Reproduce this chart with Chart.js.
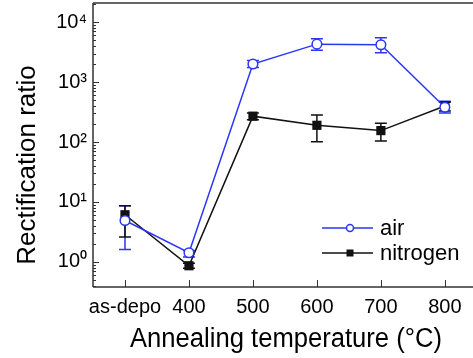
<!DOCTYPE html>
<html>
<head>
<meta charset="utf-8">
<script src="https://cdn.jsdelivr.net/npm/chart.js@4.4.0/dist/chart.umd.min.js"></script>
<style>
    html, body { margin: 0; padding: 0; background: #fff; }
    canvas { display: block; }
</style>
</head>
<body>
<canvas id="rectChart" width="473" height="358"></canvas>
<script>
// values
const categories = ['as-depo', '400', '500', '600', '700', '800'];
const airValues = [4.9, 1.42, 2000, 4300, 4200, 380];
const airLow = [1.6, 1.2, 1750, 3400, 3100, 305];
const airHigh = [8.6, 1.55, 2300, 5300, 5500, 480];
const nitrogenValues = [6.1, 0.86, 270, 190, 155, 400];
const nitrogenLow = [2.6, 0.78, 235, 101, 104, 330];
const nitrogenHigh = [8.6, 0.95, 305, 282, 205, 460];
const yRange = [0.38, 20900];

const FONT = '"Liberation Sans", Arial, sans-serif';
const BLUE = '#2b35f5';
const BLACK = '#111111';
const SUP = ['⁰', '¹', '²', '³', '⁴', '⁵'];

Chart.defaults.font.family = FONT;
Chart.defaults.color = '#000';

function toPoints(values) {
    return values.map((v, i) => ({ x: i, y: v }));
}

// error bars drawn under the markers
const errorBars = {
    id: 'errorBars',
    beforeDatasetsDraw(chart) {
        const { ctx, scales: { x, y } } = chart;
        chart.data.datasets.forEach(ds => {
            ds.errLow.forEach((lo, i) => {
                const px = x.getPixelForValue(i);
                const top = y.getPixelForValue(ds.errHigh[i]);
                const bot = y.getPixelForValue(lo);
                ctx.save();
                ctx.strokeStyle = ds.borderColor;
                ctx.lineWidth = 1.5;
                ctx.beginPath();
                ctx.moveTo(px, top); ctx.lineTo(px, bot);
                ctx.moveTo(px - 6, top); ctx.lineTo(px + 6, top);
                ctx.moveTo(px - 6, bot); ctx.lineTo(px + 6, bot);
                ctx.stroke();
                ctx.restore();
            });
        });
    }
};

// frame, inward ticks, axis titles and legend
const decorations = {
    id: 'decorations',
    afterDraw(chart) {
        const { ctx, chartArea: a, scales: { x, y } } = chart;
        ctx.save();
        ctx.strokeStyle = '#333';
        ctx.lineWidth = 1.5;
        ctx.beginPath();
        ctx.moveTo(a.left, a.top); ctx.lineTo(a.right, a.top);
        ctx.moveTo(a.left, a.top); ctx.lineTo(a.left, a.bottom);
        ctx.moveTo(a.left, a.bottom); ctx.lineTo(a.right, a.bottom);
        ctx.stroke();

        ctx.lineWidth = 1;
        ctx.beginPath();
        y.ticks.forEach(t => {
            const py = Math.round(y.getPixelForValue(t.value)) + 0.5;
            ctx.moveTo(a.left, py);
            ctx.lineTo(a.left + (t.major ? 6 : 3), py);
        });
        x.ticks.forEach(t => {
            const px = Math.round(x.getPixelForValue(t.value)) + 0.5;
            ctx.moveTo(px, a.bottom);
            ctx.lineTo(px, a.bottom - 7);
        });
        ctx.stroke();

        // axis titles
        ctx.fillStyle = '#000';
        ctx.textAlign = 'center';
        ctx.textBaseline = 'alphabetic';
        ctx.font = '27px ' + FONT;
        ctx.fillText('Annealing temperature (\u00B0C)', 286, 347, 312);

        ctx.save();
        ctx.translate(35, 165);
        ctx.rotate(-Math.PI / 2);
        ctx.font = '26px ' + FONT;
        ctx.fillText('Rectification ratio', 0, 0, 206);
        ctx.restore();

        // legend
        chart.data.datasets.forEach((ds, i) => {
            const ly = 228 + i * 25;
            ctx.strokeStyle = ds.borderColor;
            ctx.lineWidth = 1.5;
            ctx.beginPath();
            ctx.moveTo(322, ly); ctx.lineTo(373, ly);
            ctx.stroke();
            ctx.beginPath();
            if (ds.pointStyle === 'circle') {
                ctx.fillStyle = '#fff';
                ctx.arc(350, ly, 3.5, 0, Math.PI * 2);
                ctx.fill(); ctx.stroke();
            } else {
                ctx.fillStyle = ds.borderColor;
                ctx.fillRect(346.5, ly - 3.5, 7, 7);
            }
            ctx.fillStyle = '#000';
            ctx.textAlign = 'left';
            ctx.textBaseline = 'middle';
            ctx.font = '22px ' + FONT;
            ctx.fillText(ds.label, 380, ly + 1);
        });
        ctx.restore();
    }
};

new Chart(document.getElementById('rectChart').getContext('2d'), {
    type: 'line',
    data: {
        datasets: [{
            label: 'air',
            data: toPoints(airValues),
            errLow: airLow,
            errHigh: airHigh,
            borderColor: BLUE,
            backgroundColor: '#fff',
            borderWidth: 1.5,
            pointStyle: 'circle',
            pointRadius: 4.8,
            pointBorderWidth: 1.5,
            pointBackgroundColor: '#fff',
            tension: 0
        }, {
            label: 'nitrogen',
            data: toPoints(nitrogenValues),
            errLow: nitrogenLow,
            errHigh: nitrogenHigh,
            borderColor: BLACK,
            backgroundColor: BLACK,
            borderWidth: 1.5,
            pointStyle: 'rect',
            pointRadius: 6.5,
            pointBorderWidth: 0,
            pointBackgroundColor: BLACK,
            tension: 0
        }]
    },
    options: {
        responsive: false,
        animation: false,
        layout: { autoPadding: false, padding: { top: 3, right: 0, left: 0, bottom: 0 } },
        plugins: {
            legend: { display: false },
            tooltip: { enabled: false }
        },
        scales: {
            x: {
                type: 'linear',
                min: -0.5,
                max: 5.44,
                grid: { display: false, drawTicks: false },
                border: { display: false },
                afterBuildTicks: scale => {
                    scale.ticks = categories.map((c, i) => ({ value: i }));
                },
                afterFit: scale => {
                    scale.height = 71;
                    scale.paddingLeft = 0;
                    scale.paddingRight = 0;
                },
                ticks: {
                    autoSkip: false,
                    maxRotation: 0,
                    padding: 8,
                    font: { size: 20 },
                    callback: v => categories[v]
                }
            },
            y: {
                type: 'logarithmic',
                min: yRange[0],
                max: yRange[1],
                grid: { display: false, drawTicks: false },
                border: { display: false },
                afterBuildTicks: scale => {
                    const ticks = [];
                    for (let e = -1; e <= 4; e++) {
                        for (let m = 1; m <= 9; m++) {
                            const v = m * Math.pow(10, e);
                            if (v >= yRange[0] && v <= yRange[1]) ticks.push({ value: v, major: m === 1 });
                        }
                    }
                    scale.ticks = ticks;
                },
                afterFit: scale => {
                    scale.width = 93;
                    scale.paddingTop = 0;
                    scale.paddingBottom = 0;
                },
                ticks: {
                    autoSkip: false,
                    padding: 6,
                    font: { size: 20 },
                    callback: (v, i, ticks) => {
                        if (!ticks[i].major) return '';
                        return '10' + SUP[Math.round(Math.log10(v))];
                    }
                }
            }
        }
    },
    plugins: [errorBars, decorations]
});
</script>
</body>
</html>
